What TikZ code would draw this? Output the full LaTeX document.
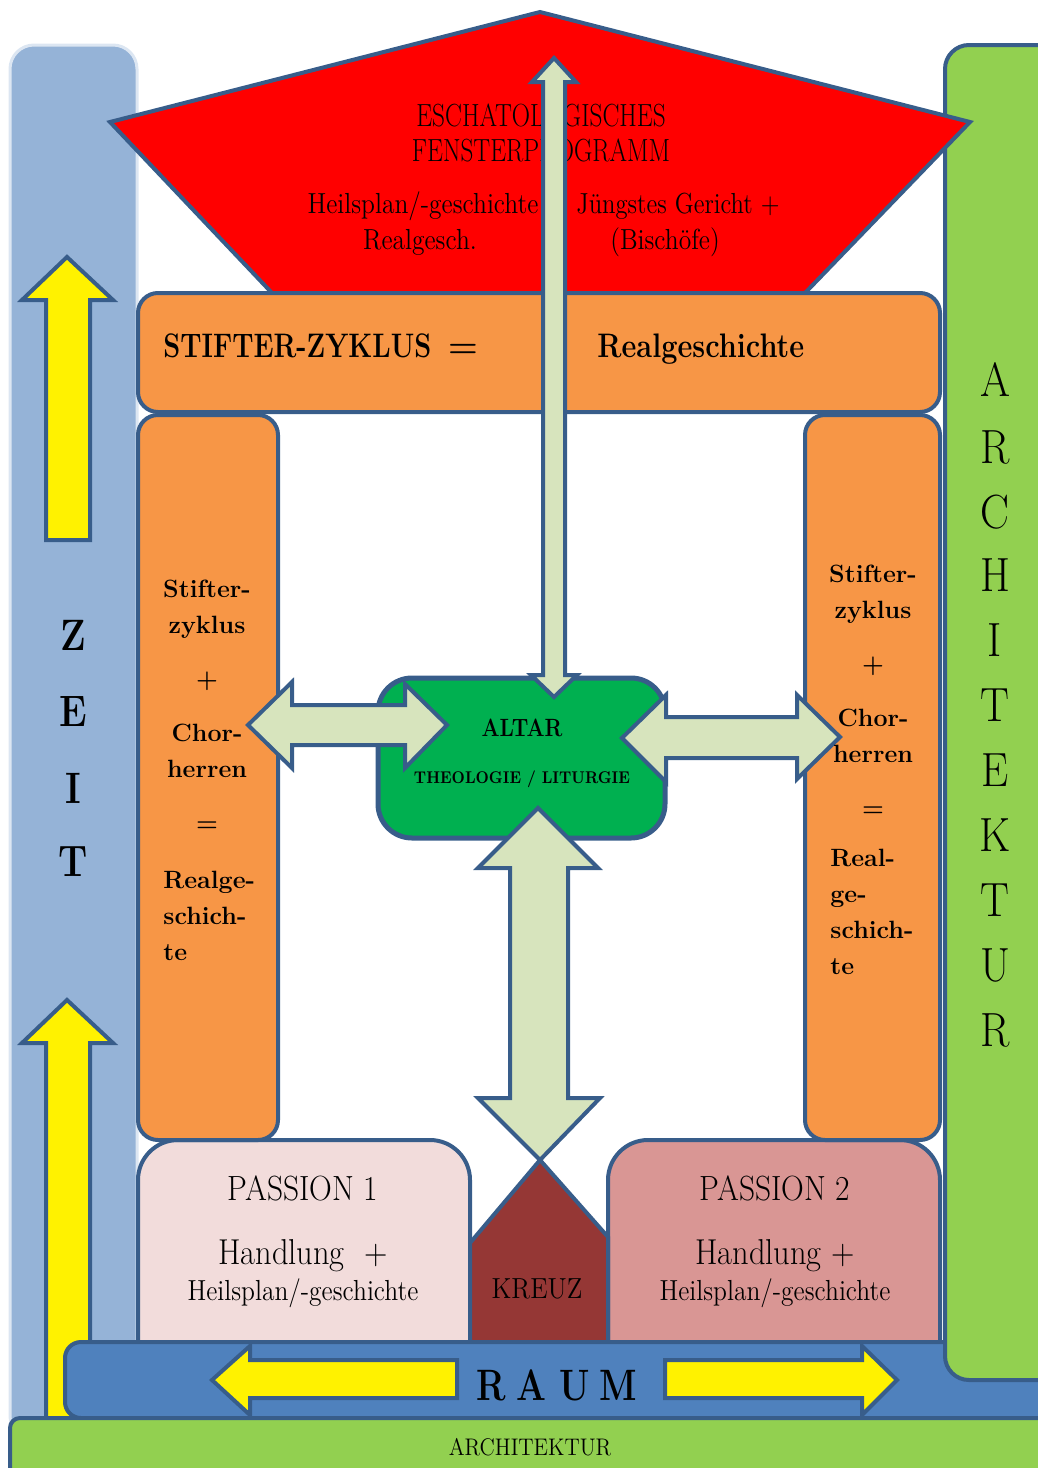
\documentclass[tikz,border=0pt]{standalone}
\usepackage{graphicx}
\usepackage{xcolor}

\definecolor{frameblue}{HTML}{385D8A}
\definecolor{zeitblue}{HTML}{95B3D7}
\definecolor{zeitedge}{HTML}{DCE6F2}
\definecolor{archgreen}{HTML}{92D050}
\definecolor{raumblue}{HTML}{4F81BD}
\definecolor{stifterorange}{HTML}{F79646}
\definecolor{altargreen}{HTML}{00B050}
\definecolor{arrowgreen}{HTML}{D7E4BD}
\definecolor{passionrose}{HTML}{F2DCDB}
\definecolor{passionred}{HTML}{D99694}
\definecolor{kreuzred}{HTML}{953735}

\newcommand{\cond}[2]{\scalebox{#1}[1]{#2}}
\newcommand{\fsz}[1]{\fontsize{#1}{#1}\selectfont}

\tikzset{
  panel/.style={fill=#1, draw=frameblue, line width=2pt},
  blockarrow/.style={fill=arrowgreen, draw=frameblue, line width=2pt, line join=miter},
  yellowarrow/.style={fill=yellow, draw=frameblue, line width=2pt, line join=miter},
  txt/.style={inner sep=0pt, text=black},
  zeitletter/.style={txt, font=\bfseries\fsz{22}},
  archletter/.style={txt, font=\fsz{24}},
  columntext/.style={txt, font=\bfseries\fontsize{12.5}{18}\selectfont}
}

\begin{document}
\begin{tikzpicture}[x=0.5pt,y=-0.5pt]
\useasboundingbox (0,0) rectangle (1038,1468);

\filldraw[fill=zeitblue, draw=zeitedge, line width=1.5pt, rounded corners=12pt] (10,45) rectangle (137,1440); %zeit bar
\filldraw[yellowarrow] (67,257) -- (113,300) -- (90,300) -- (90,540) -- (46,540) -- (46,300) -- (22,300) -- cycle; %upper
\filldraw[yellowarrow] (67,1000) -- (113,1043) -- (90,1043) -- (90,1430) -- (46,1430) -- (46,1043) -- (22,1043) -- cycle; %lower

\filldraw[panel=passionrose, rounded corners=20pt] (138,1140) rectangle (470,1400); %passion 1
\filldraw[panel=passionred, rounded corners=20pt] (608,1140) rectangle (940,1400); %passion 2
\filldraw[panel=kreuzred] (470,1400) -- (470,1243) -- (540,1160) -- (608,1237) -- (608,1400) -- cycle; %kreuz

\filldraw[panel=raumblue, rounded corners=8pt] (65,1342) rectangle (1080,1418); %raum bar
\filldraw[panel=archgreen, rounded corners=5pt] (10,1418) rectangle (1080,1490); %bottom
\filldraw[panel=archgreen, rounded corners=12pt] (945,45) rectangle (1080,1380); %right bar

\filldraw[panel=red, line join=miter] (540,12) -- (970,122) -- (805,293) -- (272,293) -- (110,122) -- cycle; %roof
\node[txt, anchor=base, font=\fsz{16}] (eschat) at (541,126) {\cond{0.79}{ESCHATOLOGISCHES}};
\node[txt, anchor=base, font=\fsz{16}] (fenster) at (541,161) {\cond{0.79}{FENSTERPROGRAMM}};
\node[txt, anchor=base, font=\fsz{14.5}] (heilsplanTop) at (423,213) {\cond{0.88}{Heilsplan/-geschichte}};
\node[txt, anchor=base, font=\fsz{14.5}] (realgesch) at (420,249) {\cond{0.88}{Realgesch.}};
\node[txt, anchor=base, font=\fsz{14.5}] (gericht) at (678,213) {\cond{0.85}{Jüngstes Gericht +}};
\node[txt, anchor=base, font=\fsz{14.5}] (bischoefe) at (665,249) {\cond{0.88}{(Bischöfe)}};

\filldraw[panel=stifterorange, rounded corners=10pt] (138,293) rectangle (940,412); %stifter band
\filldraw[panel=stifterorange, rounded corners=10pt] (138,415) rectangle (278,1140); %left column
\filldraw[panel=stifterorange, rounded corners=10pt] (805,415) rectangle (940,1140); %right column

\filldraw[panel=altargreen, line width=2.5pt, rounded corners=17pt] (378,678) rectangle (665,838); %altar

\filldraw[blockarrow] (554,58) -- (576,82) -- (565,82) -- (565,675) -- (577,675) -- (554,697) -- (531,675) -- (543,675) -- (543,82) -- (532,82) -- cycle; %to roof
\filldraw[blockarrow] (248,725) -- (292,682) -- (292,705) -- (405,705) -- (405,684) -- (447,725) -- (405,768) -- (405,745) -- (292,745) -- (292,768) -- cycle; %left
\filldraw[blockarrow] (622,738) -- (666,695) -- (666,717) -- (797,717) -- (797,695) -- (840,737) -- (797,779) -- (797,758) -- (666,758) -- (666,782) -- cycle; %right
\filldraw[blockarrow] (538,808) -- (598,868) -- (568,868) -- (568,1098) -- (600,1098) -- (540,1160) -- (478,1098) -- (510,1098) -- (510,868) -- (478,868) -- cycle; %to kreuz

\filldraw[yellowarrow] (212,1380) -- (250,1346) -- (250,1360) -- (457,1360) -- (457,1398) -- (250,1398) -- (250,1415) -- cycle; %raum left
\filldraw[yellowarrow] (897,1380) -- (862,1346) -- (862,1360) -- (665,1360) -- (665,1398) -- (862,1398) -- (862,1415) -- cycle; %raum right

\node[txt, anchor=base west, font=\bfseries\fsz{17}] (stifterzyklus) at (163,357) {\cond{0.8}{STIFTER-ZYKLUS}};
\node[txt, anchor=base, font=\bfseries\fsz{17}] (gleich) at (463,357) {=};
\node[txt, anchor=base west, font=\bfseries\fsz{17}] (realgeschichte) at (597,357) {\cond{0.85}{Realgeschichte}};

\node[columntext, anchor=north, align=center] (leftUpper) at (207,580) {Stifter-\\zyklus\\[9pt]+\\[9pt]Chor-\\herren\\[9pt]=};
\node[columntext, anchor=north west, align=left] (leftLower) at (163,871) {Realge-\\schich-\\te};
\node[columntext, anchor=north, align=center] (rightUpper) at (873,565) {Stifter-\\zyklus\\[9pt]+\\[9pt]Chor-\\herren\\[9pt]=};
\node[columntext, anchor=north west, align=left] (rightLower) at (830,849) {Real-\\ge-\\schich-\\te};

\node[txt, anchor=base, font=\bfseries\fsz{12.5}] (altar) at (522,736) {\cond{0.85}{ALTAR}};
\node[txt, anchor=base, font=\bfseries\fsz{8.5}] (theologie) at (522,783) {\cond{0.88}{THEOLOGIE / LITURGIE}};

\node[txt, anchor=base, font=\fsz{17.5}] (passionA) at (303,1200) {\cond{0.9}{PASSION 1}};
\node[txt, anchor=base, font=\fsz{18}] (handlungA) at (303,1264) {\cond{0.9}{Handlung\ \ +}};
\node[txt, anchor=base, font=\fsz{14.5}] (heilsA) at (303,1300) {\cond{0.88}{Heilsplan/-geschichte}};
\node[txt, anchor=base, font=\fsz{17.5}] (passionB) at (775,1200) {\cond{0.9}{PASSION 2}};
\node[txt, anchor=base, font=\fsz{18}] (handlungB) at (775,1264) {\cond{0.9}{Handlung +}};
\node[txt, anchor=base, font=\fsz{14.5}] (heilsB) at (775,1300) {\cond{0.88}{Heilsplan/-geschichte}};
\node[txt, anchor=base, font=\fsz{14.5}] (kreuz) at (537,1298) {\cond{0.9}{KREUZ}};

\node[txt, anchor=base, font=\bfseries\fsz{22}] (raumR) at (491,1400) {\cond{0.8}{R}};
\node[txt, anchor=base, font=\bfseries\fsz{22}] (raumA) at (531,1400) {\cond{0.8}{A}};
\node[txt, anchor=base, font=\bfseries\fsz{22}] (raumU) at (575,1400) {\cond{0.8}{U}};
\node[txt, anchor=base, font=\bfseries\fsz{22}] (raumM) at (618,1400) {\cond{0.8}{M}};
\node[txt, anchor=base, font=\fsz{12}] (archbottom) at (530,1455) {\cond{0.9}{ARCHITEKTUR}};

\node[zeitletter] (zeitZ) at (73,635) {\cond{0.85}{Z}};
\node[zeitletter] (zeitE) at (73,712) {\cond{0.85}{E}};
\node[zeitletter] (zeitI) at (73,788) {\cond{0.85}{I}};
\node[zeitletter] (zeitT) at (73,862) {\cond{0.85}{T}};

\node[archletter] (archA) at (995,380) {\cond{0.9}{A}};
\node[archletter] (archR) at (995,447) {\cond{0.9}{R}};
\node[archletter] (archC) at (995,512) {\cond{0.9}{C}};
\node[archletter] (archH) at (995,575) {\cond{0.9}{H}};
\node[archletter] (archI) at (995,640) {\cond{0.9}{I}};
\node[archletter] (archT) at (995,705) {\cond{0.9}{T}};
\node[archletter] (archE) at (995,770) {\cond{0.9}{E}};
\node[archletter] (archK) at (995,835) {\cond{0.9}{K}};
\node[archletter] (archTT) at (995,900) {\cond{0.9}{T}};
\node[archletter] (archU) at (995,965) {\cond{0.9}{U}};
\node[archletter] (archRR) at (995,1030) {\cond{0.9}{R}};
\end{tikzpicture}
\end{document}
